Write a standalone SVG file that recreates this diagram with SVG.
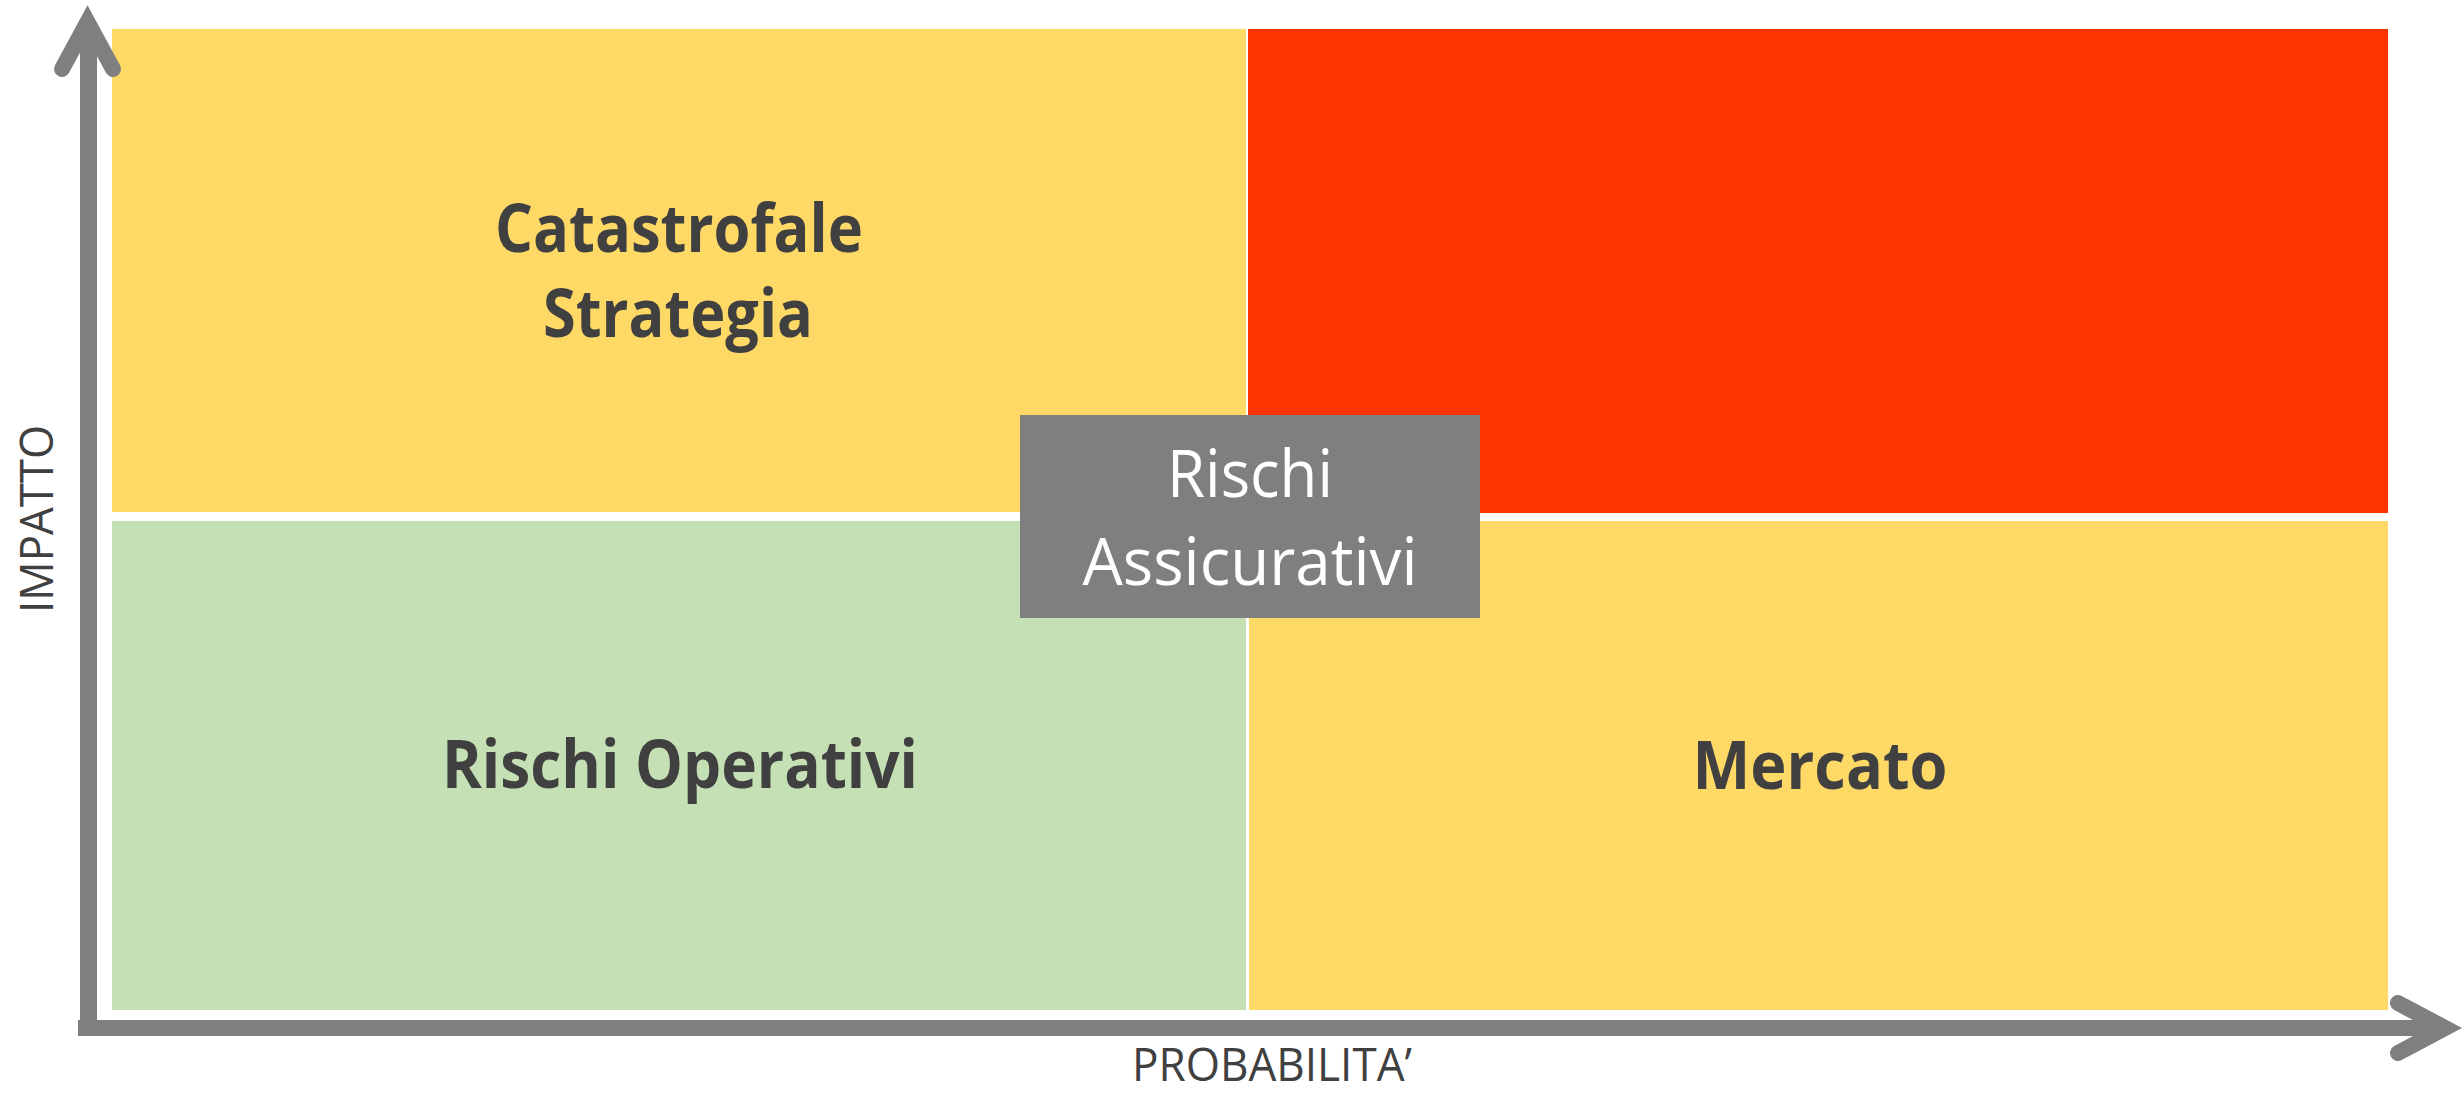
<svg xmlns="http://www.w3.org/2000/svg" width="2463" height="1094" viewBox="0 0 2463 1094">
<style>
.lbl{font-family:"Open Sans","Noto Sans","Liberation Sans",sans-serif;font-weight:bold;fill:#404040;text-anchor:middle}
.box{font-family:"Open Sans","Noto Sans","Liberation Sans",sans-serif;fill:#ffffff;text-anchor:middle}
.axis{font-family:"Open Sans","Noto Sans","Liberation Sans",sans-serif;fill:#404040}
.ax{fill:none;stroke:#7f7f7f;stroke-width:16}
.head{fill:none;stroke:#7f7f7f;stroke-width:16;stroke-linecap:round;stroke-linejoin:miter;stroke-miterlimit:6}
</style>
<rect width="2463" height="1094" fill="#ffffff"/>
<g id="q-catastrofale">
<rect x="112" y="29" width="1134" height="483" fill="#ffd966"/>
<text class="lbl" x="679" y="252" font-size="66" textLength="368" lengthAdjust="spacingAndGlyphs">Catastrofale</text>
<text class="lbl" x="678" y="337" font-size="66" textLength="270" lengthAdjust="spacingAndGlyphs">Strategia</text>
</g>
<g id="q-alto">
<rect x="1248" y="29" width="1140" height="484" fill="#ff3300"/>
</g>
<g id="q-operativi">
<rect x="112" y="521" width="1134" height="489" fill="#c5e0b4"/>
<text class="lbl" x="680" y="788" font-size="66" textLength="476" lengthAdjust="spacingAndGlyphs">Rischi Operativi</text>
</g>
<g id="q-mercato">
<rect x="1249" y="521" width="1139" height="489" fill="#ffd966"/>
<text class="lbl" x="1820" y="789" font-size="66" textLength="255" lengthAdjust="spacingAndGlyphs">Mercato</text>
</g>
<g id="assicurativi">
<rect x="1020" y="415" width="460" height="203" fill="#7f7f7f"/>
<text class="box" x="1250" y="497" font-size="66" textLength="166" lengthAdjust="spacingAndGlyphs">Rischi</text>
<text class="box" x="1250" y="585" font-size="66" textLength="335" lengthAdjust="spacingAndGlyphs">Assicurativi</text>
</g>
<g id="connectors">
<line class="ax" x1="88.5" y1="22" x2="88.5" y2="1036" style="stroke-width:17"/>
<line class="ax" x1="78" y1="1028" x2="2445" y2="1028"/>
<polyline class="head" points="62,69 87.5,22 113,69"/>
<polyline class="head" points="2398,1003 2445,1028 2398,1053"/>
</g>
<g id="axis-labels">
<text class="axis" x="1132" y="1081" font-size="46" textLength="280" lengthAdjust="spacingAndGlyphs">PROBABILITA’</text>
<text class="axis" transform="translate(53,613) rotate(-90)" x="0" y="0" font-size="46" textLength="188" lengthAdjust="spacingAndGlyphs">IMPATTO</text>
</g>
</svg>
